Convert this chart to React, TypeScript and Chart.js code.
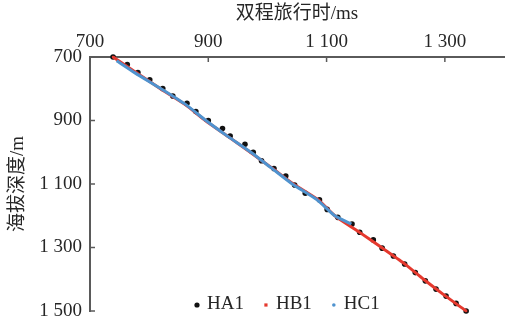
import React, { useEffect, useRef } from 'react';
import { Chart, registerables } from 'chart.js';

Chart.register(...registerables);

// ---- data ----
const xTickValues = [700, 900, 1100, 1300];
const yTickValues = [700, 900, 1100, 1300, 1500];

const ha1Time = [739, 763, 781, 801, 823, 840, 864, 879, 900, 924, 937, 962, 976, 990, 1011, 1031, 1046, 1064, 1088, 1101, 1119, 1143, 1156, 1179, 1194, 1213, 1232, 1250, 1267, 1285, 1302, 1319, 1336];
const ha1Depth = [700, 724, 749, 772, 799, 823, 846, 872, 900, 925, 949, 975, 1000, 1027, 1051, 1075, 1103, 1129, 1150, 1180, 1205, 1226, 1252, 1276, 1302, 1327, 1352, 1379, 1405, 1431, 1453, 1476, 1500];

const hb1Time = [739, 779, 819, 861, 895, 933, 971, 1008, 1044, 1086, 1114, 1154, 1193, 1231, 1264, 1299, 1336];
const hb1Depth = [700, 750, 800, 850, 900, 950, 1000, 1050, 1100, 1150, 1200, 1250, 1300, 1350, 1400, 1450, 1500];

const hc1Time = [745, 776, 820, 862, 896, 933, 972, 1007, 1042, 1084, 1114, 1142];
const hc1Depth = [712, 750, 800, 850, 900, 950, 1000, 1050, 1100, 1150, 1200, 1226];

const seriesNames = ['HA1', 'HB1', 'HC1'];
const xTitle = '双程旅行时/ms';
const yTitle = '海拔深度/m';

// ---- styles ----
const FONT = '"Liberation Serif", "Noto Sans CJK SC", serif';
const TEXT = '#262626';
const AXIS = '#5a5a5a';
const C_HA1 = '#111111';
const C_HB1 = '#e5392e';
const C_HC1 = '#4f93cf';

const pts = (xs: number[], ys: number[]) => xs.map((x, i) => ({ x, y: ys[i] }));

const fmt = (v: number) =>
  v >= 1000 ? `${Math.floor(v / 1000)} ${String(v % 1000).padStart(3, '0')}` : String(v);

const decor = {
  id: 'decor',
  afterDraw(chart: any) {
    const ctx = chart.ctx;
    const { left, top, bottom } = chart.chartArea;
    const xs = chart.scales.x;
    const ys = chart.scales.y;
    ctx.save();
    ctx.strokeStyle = AXIS;
    ctx.lineWidth = 1.5;
    xTickValues.forEach((v) => {
      const px = xs.getPixelForValue(v);
      ctx.beginPath();
      ctx.moveTo(px, top);
      ctx.lineTo(px, top + 5);
      ctx.stroke();
    });
    yTickValues.forEach((v) => {
      const py = ys.getPixelForValue(v);
      ctx.beginPath();
      ctx.moveTo(left, py);
      ctx.lineTo(left + 5, py);
      ctx.stroke();
    });

    // legend
    ctx.font = `19px ${FONT}`;
    ctx.textBaseline = 'alphabetic';
    ctx.textAlign = 'left';
    const colors = [C_HA1, C_HB1, C_HC1];
    let x = left + 107;
    const my = bottom - 6;
    const ty = bottom - 2;
    seriesNames.forEach((name, i) => {
      ctx.fillStyle = colors[i];
      if (i === 0) {
        ctx.beginPath();
        ctx.arc(x, my, 2.6, 0, Math.PI * 2);
        ctx.fill();
      } else if (i === 1) {
        ctx.fillRect(x - 1.6, my - 1.6, 3.2, 3.2);
      } else {
        ctx.beginPath();
        ctx.arc(x, my, 1.8, 0, Math.PI * 2);
        ctx.fill();
      }
      ctx.fillStyle = TEXT;
      const tx = x + 10;
      ctx.fillText(name, tx, ty);
      x = tx + ctx.measureText(name).width + 22;
    });
    ctx.restore();
  },
};

export default function App() {
  const ref = useRef<HTMLCanvasElement | null>(null);

  useEffect(() => {
    if (!ref.current) return;
    const chart = new Chart(ref.current, {
      type: 'scatter',
      data: {
        datasets: [
          {
            label: seriesNames[0],
            data: pts(ha1Time, ha1Depth),
            showLine: false,
            pointRadius: 2.8,
            pointBackgroundColor: C_HA1,
            pointBorderWidth: 0,
            order: 3,
            clip: false,
          },
          {
            label: seriesNames[1],
            data: pts(hb1Time, hb1Depth),
            showLine: true,
            borderColor: C_HB1,
            borderWidth: 3,
            pointStyle: 'rect',
            pointRadius: 1.6,
            pointBackgroundColor: C_HB1,
            pointBorderWidth: 0,
            tension: 0.2,
            order: 2,
            clip: false,
          },
          {
            label: seriesNames[2],
            data: pts(hc1Time, hc1Depth),
            showLine: true,
            borderColor: C_HC1,
            borderWidth: 3,
            pointRadius: 0,
            tension: 0.2,
            order: 1,
            clip: false,
          },
        ],
      },
      options: {
        animation: false,
        responsive: true,
        maintainAspectRatio: false,
        layout: { padding: { left: 0, top: 0, right: 1, bottom: 14 } },
        plugins: { legend: { display: false }, tooltip: { enabled: false } },
        scales: {
          x: {
            type: 'linear',
            position: 'top',
            min: 700,
            max: 1400,
            afterBuildTicks: (s: any) => {
              s.ticks = xTickValues.map((v) => ({ value: v }));
            },
            afterFit: (s: any) => {
              s.height = 57;
              s.paddingLeft = 0;
              s.paddingRight = 0;
            },
            grid: { display: false, drawTicks: false },
            border: { display: true, color: AXIS, width: 2 },
            ticks: {
              color: TEXT,
              font: { family: FONT, size: 19 },
              padding: 4,
              maxRotation: 0,
              callback: (v: any) => fmt(Number(v)),
            },
            title: {
              display: true,
              text: xTitle,
              color: TEXT,
              font: { family: FONT, size: 19 },
              padding: { top: 3, bottom: 0 },
            },
          },
          y: {
            type: 'linear',
            position: 'left',
            reverse: true,
            min: 700,
            max: 1500,
            afterBuildTicks: (s: any) => {
              s.ticks = yTickValues.map((v) => ({ value: v }));
            },
            afterFit: (s: any) => {
              s.width = 90;
              s.paddingTop = 0;
              s.paddingBottom = 0;
            },
            grid: { display: false, drawTicks: false },
            border: { display: true, color: AXIS, width: 2 },
            ticks: {
              color: TEXT,
              font: { family: FONT, size: 19 },
              padding: 8,
              callback: (v: any) => fmt(Number(v)),
            },
            title: {
              display: true,
              text: yTitle,
              color: TEXT,
              font: { family: FONT, size: 19 },
              padding: { top: 7, bottom: 0 },
            },
          },
        },
      },
      plugins: [decor],
    } as any);
    return () => chart.destroy();
  }, []);

  return (
    <div style={{ position: 'fixed', left: 0, top: 0, width: 508, height: 325, background: '#fff' }}>
      <canvas ref={ref} />
    </div>
  );
}
